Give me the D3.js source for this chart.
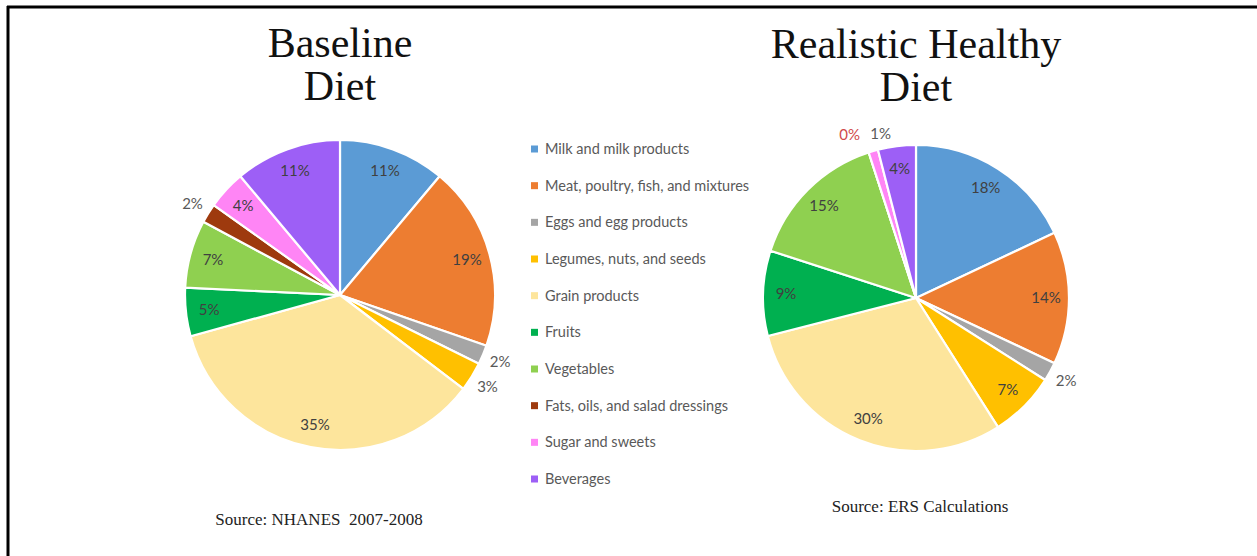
<!DOCTYPE html>
<html><head><meta charset="utf-8">
<script src="https://cdn.jsdelivr.net/npm/d3@7"></script>
<style>
html,body{margin:0;padding:0;background:#fff;}
svg{display:block;}
</style></head>
<body>
<svg id="chart" width="1257" height="556"></svg>
<script>
const categories = ["Milk and milk products","Meat, poultry, fish, and mixtures","Eggs and egg products","Legumes, nuts, and seeds","Grain products","Fruits","Vegetables","Fats, oils, and salad dressings","Sugar and sweets","Beverages"];
const colors = ["#5B9BD5","#ED7D31","#A5A5A5","#FFC000","#FDE59C","#00B050","#8FD050","#9E3A0E","#FF85F5","#9D5FF6"];
const baselineValues = [11,19,2,3,35,5,7,2,4,11];
const healthyValues = [18,14,2,7,30,9,15,0,1,4];
const titles = [["Baseline","Diet"],["Realistic Healthy","Diet"]];
const sources = ["Source: NHANES  2007-2008","Source: ERS Calculations"];

const svg = d3.select("#chart");
svg.append("rect").attr("width",1257).attr("height",556).attr("fill","#fff");
// frame
svg.append("line").attr("x1",7).attr("x2",1257).attr("y1",7).attr("y2",7).attr("stroke","#000").attr("stroke-width",3);
svg.append("line").attr("x1",8).attr("x2",8).attr("y1",6).attr("y2",556).attr("stroke","#000").attr("stroke-width",3);

const pies = [
  {values: baselineValues, cx: 340, cy: 295, r: 155, tx: 340, ty: 57, sx: 319, sy: 525, title: titles[0], source: sources[0]},
  {values: healthyValues, cx: 916, cy: 298, r: 153, tx: 916, ty: 58, sx: 920, sy: 512, title: titles[1], source: sources[1]}
];

const pieGen = d3.pie().sort(null).value(d => d);
const labelFont = "Lato, 'Open Sans', sans-serif";

pies.forEach(p => {
  const g = svg.append("g").attr("transform", `translate(${p.cx},${p.cy})`);
  const arcs = pieGen(p.values);
  const arc = d3.arc().innerRadius(0).outerRadius(p.r);
  g.selectAll("path.slice").data(arcs).join("path")
    .attr("class","slice")
    .attr("d", arc)
    .attr("fill",(d,i)=>colors[i])
    .attr("stroke","#fff").attr("stroke-width",2.2).attr("stroke-linejoin","round");

  const inArc = d3.arc().innerRadius(p.r*0.85).outerRadius(p.r*0.85);
  const outArc = d3.arc().innerRadius(p.r*1.12).outerRadius(p.r*1.12);
  arcs.forEach((d,i) => {
    const outside = d.data <= 3;
    const c = (outside ? outArc : inArc).centroid(d);
    let anchor = "middle", dx = 0;
    const mid = (d.startAngle + d.endAngle)/2;
    if (outside && (mid > Math.PI*1.75)) {
      if (d.data === 0) { anchor = "end"; dx = -3; } else { anchor = "start"; dx = 2; }
    }
    g.append("text")
      .attr("x", c[0] + dx).attr("y", c[1])
      .attr("dy","0.35em")
      .attr("text-anchor", anchor)
      .attr("font-family", labelFont)
      .attr("font-size", 15)
      .attr("fill", d.data === 0 ? "#D0494B" : (outside ? "#595959" : "#404040"))
      .text(d.data + "%");
  });

  const t = svg.append("text").attr("x",p.tx).attr("y",p.ty)
    .attr("text-anchor","middle")
    .attr("font-family","'Liberation Serif','Times New Roman',serif")
    .attr("font-size",42).attr("fill","#111");
  p.title.forEach((line,k)=> t.append("tspan").attr("x",p.tx).attr("dy", k===0?0:43).text(line));

  svg.append("text").attr("x",p.sx).attr("y",p.sy)
    .attr("text-anchor","middle")
    .attr("font-family","'Liberation Serif','Times New Roman',serif")
    .attr("font-size",17).attr("fill","#222")
    .attr("xml:space","preserve")
    .style("white-space","pre")
    .text(p.source);
});

// legend
const ly = d3.scalePoint().domain(categories).range([149,479]);
const leg = svg.append("g");
categories.forEach((c,i)=>{
  leg.append("rect").attr("x",531).attr("y",ly(c)-3.5).attr("width",7).attr("height",7).attr("fill",colors[i]);
  leg.append("text").attr("x",545).attr("y",ly(c)).attr("dy","0.35em")
    .attr("font-family",labelFont).attr("font-size",14.5).attr("fill","#595959").text(c);
});
</script>
</body></html>
